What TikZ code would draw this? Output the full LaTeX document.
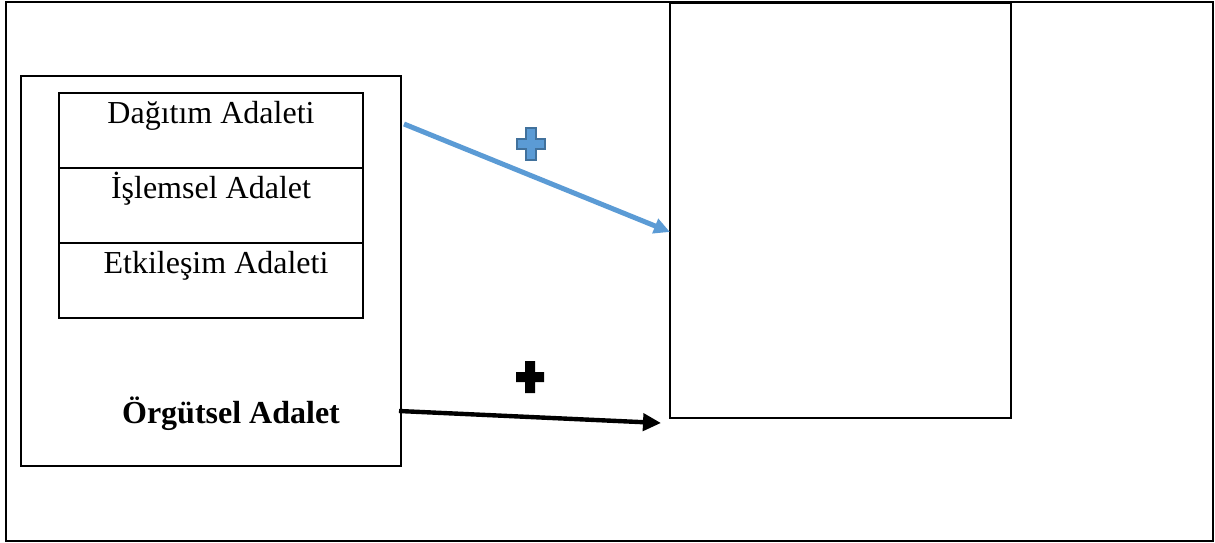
\documentclass[tikz,border=0pt]{standalone}
\usepackage{fontspec}
\setmainfont{Liberation Serif}
\usetikzlibrary{arrows.meta,positioning}

\definecolor{arrowblue}{HTML}{5B9BD5}
\definecolor{plusedge}{HTML}{41719C}

\tikzset{
  frame/.style={draw, line width=1pt, inner sep=0pt, outer sep=0pt},
  cellbox/.style={frame, minimum width=152pt, minimum height=37.5pt},
  lbl/.style={font=\fontsize{16}{19}\selectfont, inner sep=0pt, anchor=base},
  plussign/.pic={
    \path[pic actions] (-5,-16) -- (5,-16) -- (5,-5) -- (14,-5) -- (14,5) -- (5,5)
      -- (5,16) -- (-5,16) -- (-5,5) -- (-14,5) -- (-14,-5) -- (-5,-5) -- cycle;
  }
}

\begin{document}
\begin{tikzpicture}[x=0.5pt, y=-0.5pt]
  \useasboundingbox (0,0) rectangle (1215,542);
  \draw[line width=1pt] (6,2) rectangle (1213,541);

  % left side
  \node[frame, minimum width=190pt, minimum height=195pt] (org) at (211,271) {};
  \node[cellbox] (dagitim) at (211,130.5) {};
  \node[cellbox, below=0pt of dagitim] (islemsel) {};
  \node[cellbox, below=0pt of islemsel] (etkilesim) {};

  \node[lbl] (dagitimtxt) at ([yshift=-15pt]dagitim.north) {Dağıtım Adaleti};
  \node[lbl] (islemseltxt) at ([yshift=-15pt]islemsel.north) {İşlemsel Adalet};
  \node[lbl] (etkilesimtxt) at ([xshift=2.5pt, yshift=-15pt]etkilesim.north) {Etkileşim Adaleti};
  \node[lbl, font=\fontsize{16}{19}\selectfont\bfseries] (orgtxt) at (231,423) {Örgütsel Adalet};

  % right side
  \node[frame, minimum width=170.5pt, minimum height=207.5pt] (result) at (840.5,210.5) {};

  % arrows
  \coordinate (bluefrom) at (404,124);
  \coordinate (blueto) at (670,232);
  \coordinate (blackfrom) at (399,411);
  \coordinate (blackto) at (661,423);

  \draw[arrowblue, line width=2.5pt, -{Triangle[length=8pt, width=7.5pt]}] (bluefrom) -- (blueto);
  \draw[black, line width=2.2pt, -{Triangle[length=9pt, width=8.5pt]}] (blackfrom) -- (blackto);

  \pic[fill=arrowblue, draw=plusedge, line width=1pt] (plusblue) at (531,144) {plussign};
  \pic[fill=black] (plusblack) at (530,377) {plussign};
\end{tikzpicture}
\end{document}
